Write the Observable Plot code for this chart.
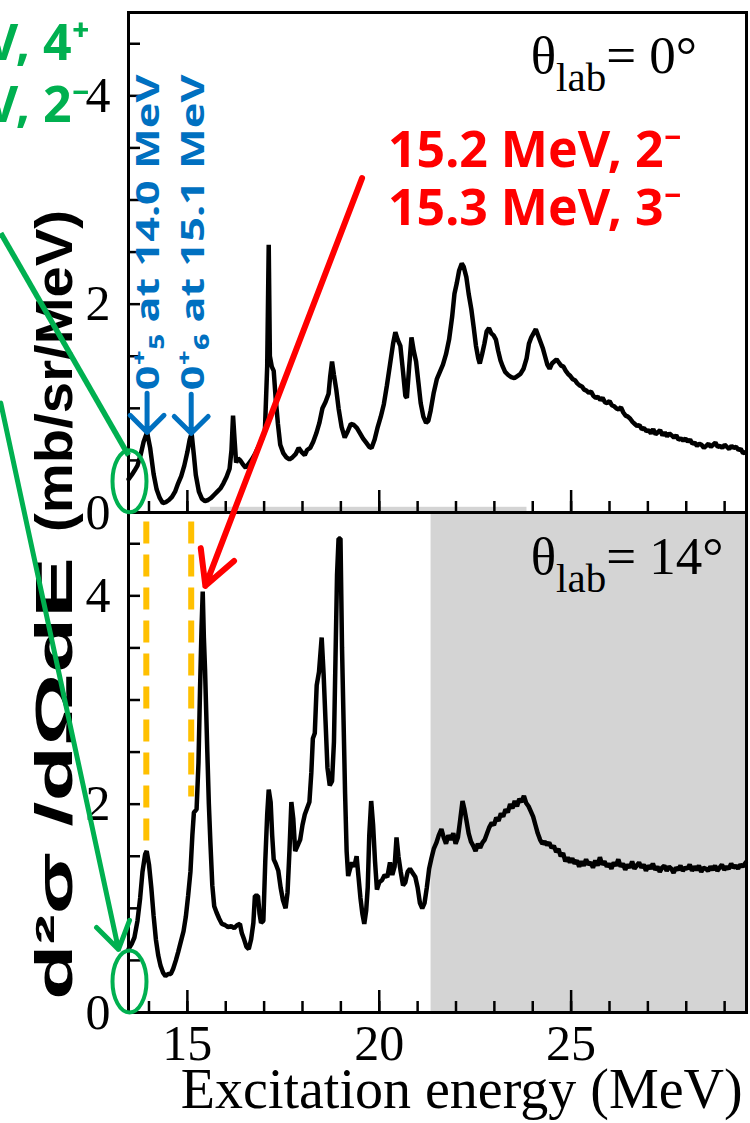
<!DOCTYPE html>
<html><head><meta charset="utf-8">
<script src="https://cdn.jsdelivr.net/npm/d3@7"></script>
<script src="https://cdn.jsdelivr.net/npm/@observablehq/plot@0.6"></script>
<style>body{margin:0;background:#fff;} #chart svg{display:block}</style>
</head><body><div id="chart"></div>
<script>
// ---------- data ----------
const panels = ["0", "14"];               // θlab of each panel (deg)
const thetaLabels = ["θlab= 0°", "θlab= 14°"];
// spectrum at θlab = 0° : [Ex (MeV), d2σ/dΩdE (mb/sr/MeV)]
const spectrum0 = [
[13.47,0.32],[13.55,0.36],[13.62,0.40],[13.70,0.45],[13.78,0.55],[13.86,0.68],[13.95,0.77],[14.03,0.62],[14.12,0.37],[14.20,0.22],
[14.28,0.14],[14.36,0.09],[14.44,0.10],[14.52,0.12],[14.60,0.15],[14.68,0.20],[14.76,0.28],[14.84,0.35],[14.92,0.45],[15.00,0.58],
[15.06,0.70],[15.11,0.76],[15.17,0.55],[15.22,0.36],[15.30,0.20],[15.38,0.13],[15.46,0.11],[15.54,0.12],[15.62,0.14],[15.70,0.17],
[15.78,0.20],[15.86,0.23],[15.94,0.28],[16.02,0.34],[16.10,0.42],[16.15,0.60],[16.19,0.93],[16.23,0.70],[16.27,0.48],[16.32,0.52],
[16.38,0.50],[16.45,0.46],[16.52,0.43],[16.60,0.47],[16.68,0.51],[16.76,0.56],[16.85,0.63],[16.94,0.70],[17.02,0.78],[17.08,1.40],
[17.12,2.57],[17.15,1.50],[17.20,1.40],[17.25,1.36],[17.30,1.10],[17.36,0.85],[17.42,0.65],[17.50,0.57],[17.58,0.53],[17.66,0.51],
[17.74,0.53],[17.82,0.56],[17.90,0.62],[17.98,0.58],[18.06,0.55],[18.12,0.60],[18.20,0.62],[18.28,0.68],[18.36,0.76],[18.44,0.86],
[18.52,1.00],[18.60,1.06],[18.68,1.14],[18.72,1.30],[18.77,1.45],[18.82,1.32],[18.88,1.18],[18.94,1.00],[19.02,0.82],[19.10,0.72],
[19.18,0.78],[19.26,0.85],[19.34,0.84],[19.42,0.81],[19.50,0.76],[19.58,0.71],[19.66,0.67],[19.74,0.63],[19.80,0.62],[19.88,0.70],
[19.96,0.82],[20.04,0.92],[20.12,1.04],[20.20,1.22],[20.28,1.42],[20.36,1.62],[20.42,1.73],[20.48,1.66],[20.55,1.60],[20.62,1.35],
[20.68,1.12],[20.72,1.10],[20.78,1.40],[20.84,1.68],[20.90,1.55],[20.96,1.45],[21.02,1.25],[21.08,1.05],[21.15,0.92],[21.22,0.86],
[21.28,0.88],[21.34,0.98],[21.42,1.15],[21.50,1.28],[21.58,1.35],[21.66,1.42],[21.74,1.52],[21.82,1.66],[21.90,1.88],[21.96,2.10],
[22.02,2.20],[22.08,2.32],[22.15,2.39],[22.20,2.36],[22.27,2.26],[22.33,2.10],[22.40,1.95],[22.46,1.78],[22.52,1.60],[22.58,1.48],
[22.62,1.43],[22.68,1.52],[22.74,1.62],[22.80,1.74],[22.86,1.77],[22.92,1.72],[22.98,1.70],[23.04,1.66],[23.10,1.55],[23.16,1.46],
[23.22,1.40],[23.28,1.35],[23.36,1.32],[23.44,1.30],[23.52,1.29],[23.60,1.31],[23.68,1.33],[23.76,1.38],[23.84,1.48],[23.90,1.62],
[23.96,1.68],[24.02,1.72],[24.08,1.76],[24.14,1.70],[24.20,1.64],[24.26,1.58],[24.32,1.50],[24.38,1.42],[24.44,1.38],[24.50,1.43],
[24.56,1.45],[24.62,1.47],[24.68,1.44],[24.74,1.41],[24.80,1.40],[24.86,1.36],[24.92,1.33],[24.98,1.31],[25.04,1.28],[25.10,1.27],
[25.16,1.24],[25.22,1.22],[25.28,1.21],[25.34,1.18],[25.40,1.17],[25.46,1.15],[25.52,1.16],[25.58,1.12],[25.64,1.10],[25.70,1.11],
[25.76,1.08],[25.82,1.10],[25.88,1.06],[25.94,1.05],[26.00,1.07],[26.06,1.03],[26.12,1.02],[26.18,1.00],[26.24,0.99],[26.30,1.01],
[26.36,0.96],[26.42,0.93],[26.48,0.92],[26.54,0.90],[26.60,0.87],[26.66,0.85],[26.72,0.83],[26.78,0.84],[26.84,0.80],[26.90,0.81],
[26.96,0.78],[27.02,0.79],[27.08,0.76],[27.14,0.80],[27.20,0.75],[27.26,0.77],[27.32,0.79],[27.38,0.74],[27.44,0.77],[27.50,0.73],
[27.56,0.76],[27.62,0.74],[27.68,0.72],[27.74,0.74],[27.80,0.70],[27.86,0.71],[27.92,0.69],[27.98,0.71],[28.04,0.68],[28.10,0.70],
[28.16,0.66],[28.22,0.67],[28.28,0.64],[28.34,0.66],[28.40,0.65],[28.46,0.62],[28.52,0.64],[28.58,0.66],[28.64,0.63],[28.70,0.65],
[28.76,0.67],[28.82,0.63],[28.88,0.64],[28.94,0.62],[29.00,0.65],[29.06,0.63],[29.12,0.61],[29.18,0.64],[29.24,0.62],[29.30,0.63],
[29.36,0.60],[29.42,0.61],[29.48,0.57],[29.55,0.58]
];
// spectrum at θlab = 14°
const spectrum14 = [
[13.47,0.61],[13.55,0.66],[13.62,0.72],[13.70,0.88],[13.77,1.10],[13.83,1.35],[13.90,1.52],[13.94,1.55],[14.00,1.42],[14.06,1.20],
[14.12,0.93],[14.18,0.70],[14.24,0.55],[14.30,0.45],[14.37,0.38],[14.43,0.35],[14.50,0.37],[14.57,0.37],[14.63,0.42],[14.70,0.50],
[14.76,0.58],[14.83,0.68],[14.90,0.78],[14.96,0.92],[15.02,1.12],[15.08,1.35],[15.13,1.70],[15.17,1.92],[15.24,1.95],[15.29,2.40],
[15.33,3.10],[15.37,3.70],[15.40,4.04],[15.43,3.60],[15.46,3.30],[15.49,2.90],[15.52,2.50],[15.56,2.00],[15.60,1.63],[15.65,1.22],
[15.70,1.02],[15.76,0.96],[15.83,0.90],[15.90,0.85],[15.98,0.84],[16.06,0.82],[16.14,0.83],[16.22,0.81],[16.30,0.84],[16.37,0.85],
[16.42,0.76],[16.48,0.70],[16.54,0.63],[16.60,0.61],[16.66,0.70],[16.72,0.86],[16.76,1.12],[16.84,1.12],[16.88,0.95],[16.92,0.86],
[16.98,0.88],[17.03,1.45],[17.08,1.90],[17.12,2.14],[17.17,2.02],[17.21,1.70],[17.25,1.47],[17.30,1.43],[17.37,1.36],[17.43,1.20],
[17.49,1.08],[17.56,1.00],[17.61,1.15],[17.66,1.55],[17.71,2.02],[17.76,1.86],[17.81,1.55],[17.87,1.60],[17.94,1.66],[18.00,1.80],
[18.06,1.90],[18.12,1.96],[18.18,2.02],[18.23,2.30],[18.27,2.63],[18.32,2.68],[18.37,3.14],[18.43,3.27],[18.50,3.60],[18.55,3.25],
[18.60,2.80],[18.65,2.35],[18.71,2.18],[18.77,2.22],[18.82,2.60],[18.86,3.40],[18.90,4.20],[18.94,4.55],[18.99,4.55],[19.03,3.50],
[19.07,2.80],[19.11,2.10],[19.15,1.55],[19.19,1.31],[19.24,1.38],[19.29,1.44],[19.35,1.40],[19.41,1.50],[19.46,1.30],[19.51,1.10],
[19.56,0.95],[19.61,0.85],[19.66,0.98],[19.70,1.20],[19.74,1.70],[19.79,2.03],[19.84,1.80],[19.89,1.45],[19.94,1.18],[20.00,1.25],
[20.07,1.27],[20.14,1.32],[20.21,1.30],[20.28,1.44],[20.34,1.32],[20.40,1.40],[20.45,1.68],[20.50,1.50],[20.56,1.35],[20.62,1.22],
[20.68,1.25],[20.74,1.35],[20.80,1.38],[20.87,1.34],[20.94,1.30],[21.00,1.20],[21.06,1.05],[21.12,1.00],[21.18,1.05],[21.24,1.20],
[21.30,1.38],[21.36,1.48],[21.42,1.57],[21.49,1.63],[21.55,1.70],[21.62,1.76],[21.68,1.68],[21.74,1.62],[21.80,1.70],[21.86,1.66],
[21.93,1.72],[21.99,1.62],[22.05,1.68],[22.11,1.85],[22.17,2.03],[22.22,1.95],[22.27,1.85],[22.33,1.72],[22.39,1.64],[22.45,1.60],
[22.51,1.55],[22.57,1.62],[22.63,1.58],[22.69,1.63],[22.75,1.66],[22.81,1.72],[22.87,1.78],[22.93,1.82],[22.99,1.80],[23.05,1.87],
[23.11,1.84],[23.17,1.91],[23.23,1.88],[23.29,1.95],[23.35,1.92],[23.41,2.00],[23.47,1.96],[23.53,2.03],[23.59,1.98],[23.65,2.05],
[23.71,2.02],[23.77,2.08],[23.83,2.01],[23.89,1.98],[23.95,1.93],[24.01,1.88],[24.07,1.80],[24.13,1.72],[24.19,1.66],[24.25,1.62],
[24.31,1.64],[24.37,1.61],[24.43,1.63],[24.49,1.58],[24.55,1.60],[24.61,1.54],[24.67,1.57],[24.73,1.50],[24.79,1.53],[24.85,1.45],
[24.91,1.49],[24.97,1.44],[25.03,1.48],[25.09,1.43],[25.15,1.46],[25.21,1.40],[25.27,1.45],[25.33,1.41],[25.39,1.47],[25.45,1.42],
[25.51,1.44],[25.57,1.39],[25.63,1.46],[25.69,1.41],[25.75,1.49],[25.81,1.42],[25.87,1.45],[25.93,1.40],[25.99,1.43],[26.05,1.38],
[26.11,1.44],[26.17,1.41],[26.23,1.47],[26.29,1.40],[26.35,1.43],[26.41,1.37],[26.47,1.42],[26.53,1.39],[26.59,1.45],[26.65,1.38],
[26.71,1.41],[26.77,1.44],[26.83,1.39],[26.89,1.42],[26.95,1.36],[27.01,1.41],[27.07,1.38],[27.13,1.43],[27.19,1.37],[27.25,1.40],
[27.31,1.35],[27.37,1.39],[27.43,1.41],[27.49,1.36],[27.55,1.40],[27.61,1.38],[27.67,1.34],[27.73,1.39],[27.79,1.37],[27.85,1.41],
[27.91,1.36],[27.97,1.39],[28.03,1.38],[28.09,1.42],[28.15,1.36],[28.21,1.40],[28.27,1.37],[28.33,1.41],[28.39,1.35],[28.45,1.39],
[28.51,1.38],[28.57,1.36],[28.63,1.40],[28.69,1.37],[28.75,1.41],[28.81,1.36],[28.87,1.39],[28.93,1.42],[28.99,1.37],[29.05,1.40],
[29.11,1.38],[29.17,1.43],[29.23,1.39],[29.29,1.41],[29.35,1.38],[29.41,1.42],[29.47,1.40],[29.55,1.44]
];
// axis ticks
const xMinorTicks = [14,15,16,17,18,19,20,21,22,23,24,25,26,27,28,29];
const xMajorTicks = [15,20,25];
const yMinorTicks = [0,0.5,1,1.5,2,2.5,3,3.5,4,4.5];
const yLabelTicks = [0,2,4];
// annotations
const blueStates = ["0⁺₅ at 14.0 MeV", "0⁺₆ at 15.1 MeV"];
const blueEnergies = [13.95, 15.10];
const bluePeaks = [0.77, 0.76];
const redStates = ["15.2 MeV, 2⁻", "15.3 MeV, 3⁻"];
const greenStates = ["13.9 MeV, 4⁺", "14.0 MeV, 2⁻"];
const dashedEnergies = [13.93, 15.10];
const dashedTops = [1.55, 2.07];
const yTitle = "d²σ /dΩdE (mb/sr/MeV)";
const xTitle = "Excitation energy (MeV)";

// ---------- build ----------
const rows = [
  ...spectrum0.map(([E, v]) => ({E, v, panel: panels[0]})),
  ...spectrum14.map(([E, v]) => ({E, v, panel: panels[1]}))
];
const shaded = [
  {panel: panels[1], E1: 21.35, E2: 29.57, v1: 0, v2: 4.8},
  {panel: panels[0], E1: 15.6, E2: 23.85, v1: 0, v2: 0.05}
];
const ellipse = (rx, ry) => ({draw(ctx) {
  const k = 0.5523;
  ctx.moveTo(rx, 0);
  ctx.bezierCurveTo(rx, ry * k, rx * k, ry, 0, ry);
  ctx.bezierCurveTo(-rx * k, ry, -rx, ry * k, -rx, 0);
  ctx.bezierCurveTo(-rx, -ry * k, -rx * k, -ry, 0, -ry);
  ctx.bezierCurveTo(rx * k, -ry, rx, -ry * k, rx, 0);
  ctx.closePath();
}});

const GREEN = "#00b050", BLUE = "#0070c0", RED = "#ff0000", ORANGE = "#ffc000";
const serif = "Liberation Serif, Times New Roman, serif";
const sans = "Noto Sans, Open Sans, sans-serif";
const onTop = () => panels[0], onBot = () => panels[1];

const chart = Plot.plot({
  width: 750, height: 1123,
  marginTop: 12, marginBottom: 111, marginLeft: 128, marginRight: 4,
  x: {domain: [13.466, 29.57], label: null},
  y: {domain: [0, 4.8], label: null},
  fy: {domain: panels, padding: 0, axis: null},
  style: {background: "white", color: "black"},
  marks: [
    Plot.rect(shaded, {x1: "E1", x2: "E2", y1: "v1", y2: "v2", fy: "panel", fill: "#d4d4d4"}),
    Plot.ruleX(dashedEnergies, {x: d => d, y1: () => 4.71, y2: dashedTops, fy: onBot,
      stroke: ORANGE, strokeWidth: 6, strokeDasharray: "22,11"}),
    Plot.line(rows, {x: "E", y: "v", fy: "panel", stroke: "black", strokeWidth: 4.5, strokeLinejoin: "miter"}),
    Plot.frame({stroke: "black", strokeWidth: 3}),
    // ticks (inward)
    Plot.axisY(yMinorTicks, {tickSize: -12, fill: "none", strokeWidth: 2.5, label: null}),
    Plot.axisY(yLabelTicks, {tickSize: 0, tickPadding: 18, tickFormat: d => String(d), fontSize: 50, fontFamily: serif, label: null}),
    Plot.axisX(xMinorTicks, {tickSize: -11, fill: "none", strokeWidth: 2.5, facetAnchor: null, label: null}),
    Plot.axisX(xMajorTicks, {tickSize: -22, fill: "none", strokeWidth: 2.5, facetAnchor: null, label: null}),
    Plot.axisX(xMajorTicks, {tickSize: 0, tickPadding: 12, tickFormat: d => String(d), fontSize: 50, fontFamily: serif, label: null}),
    // titles
    Plot.text([xTitle], {x: () => 22.15, y: () => -0.74, fy: onBot, fontSize: 56, fontFamily: serif, fill: "black"}),
    Plot.text([yTitle], {x: () => 11.567, y: () => 3.913, fy: onBot, rotate: -90, fontSize: 52, fontWeight: "bold",
      fontFamily: "Liberation Sans, Arial, sans-serif", fill: "black", ariaDescription: "y-title"}),
    // theta labels
    Plot.text(thetaLabels, {x: () => 23.947, y: [4.385, 4.375], fy: (d, i) => panels[i], textAnchor: "start",
      fontSize: 53, fontFamily: serif, fill: "black", ariaDescription: "theta"}),
    // blue 0+ states
    Plot.text(blueStates, {x: [13.986, 15.157], y: () => 1.173, fy: onTop, rotate: -90, textAnchor: "start",
      fontSize: 33, fontWeight: "bold", fontFamily: sans, fill: BLUE, ariaDescription: "blue-labels"}),
    Plot.vector(blueEnergies, {x: d => d, y: bluePeaks, fy: onTop, length: 39, rotate: 180, anchor: "end",
      shape: "arrow", r: 7.6, stroke: BLUE, strokeWidth: 5}),
    // red labels
    Plot.text(redStates, {x: () => 20.228, y: [3.474, 2.913], fy: onTop, textAnchor: "start",
      fontSize: 50, fontWeight: "bold", fontFamily: sans, fill: RED}),
    // green labels
    Plot.text(greenStates, {x: () => 12.452, y: [4.5, 3.904], fy: onTop, textAnchor: "end",
      fontSize: 50, fontWeight: "bold", fontFamily: sans, fill: GREEN}),
    // green ellipses
    Plot.dot(panels, {x: () => 13.492, y: [0.30, 0.298], fy: d => d, symbol: ellipse(17, 31), r: 10,
      stroke: GREEN, fill: "none", strokeWidth: 4}),
    // green link (top) and arrow (bottom)
    Plot.link([greenStates[0]], {x1: () => 10.137, y1: () => 2.683, x2: () => 13.466, y2: () => 0.548, fy: onTop,
      stroke: GREEN, strokeWidth: 5.5}),
    Plot.arrow([greenStates[1]], {x1: () => 10.137, y1: () => 5.85, x2: () => 13.206, y2: () => 0.606, fy: onBot,
      stroke: GREEN, strokeWidth: 5, headLength: 9.3, headAngle: 66}),
    // red arrow
    Plot.arrow([redStates[0]], {x1: () => 19.552, y1: () => 8.01, x2: () => 15.469, y2: () => 4.096, fy: onBot,
      stroke: RED, strokeWidth: 6, headLength: 9.5, headAngle: 56})
  ]
});

// fine typographic touches
const NS = "http://www.w3.org/2000/svg";
chart.querySelectorAll('g[aria-description="theta"] text').forEach(t => {
  const s = t.textContent; // "θlab= 0°"
  t.textContent = s.slice(0, 1);
  const sub = document.createElementNS(NS, "tspan");
  sub.setAttribute("font-size", 41); sub.setAttribute("dy", 18); sub.textContent = s.slice(1, 4);
  const rest = document.createElementNS(NS, "tspan");
  rest.setAttribute("dy", -18); rest.textContent = s.slice(4);
  t.append(sub, rest);
});
chart.querySelectorAll('g[aria-description="blue-labels"] text').forEach(t => {
  t.setAttribute("textLength", 316); t.setAttribute("lengthAdjust", "spacingAndGlyphs");
});
chart.querySelectorAll('g[aria-description="y-title"] text').forEach(t => {
  const s = t.textContent;
  const cut = s.indexOf("(");
  t.textContent = "";
  const a = document.createElementNS(NS, "tspan");
  a.textContent = s.slice(0, cut);
  a.setAttribute("textLength", 468); a.setAttribute("lengthAdjust", "spacingAndGlyphs");
  const b = document.createElementNS(NS, "tspan");
  b.textContent = s.slice(cut);
  b.setAttribute("textLength", 322); b.setAttribute("lengthAdjust", "spacingAndGlyphs");
  t.append(a, b);
});
document.getElementById("chart").append(chart);
</script></body></html>
